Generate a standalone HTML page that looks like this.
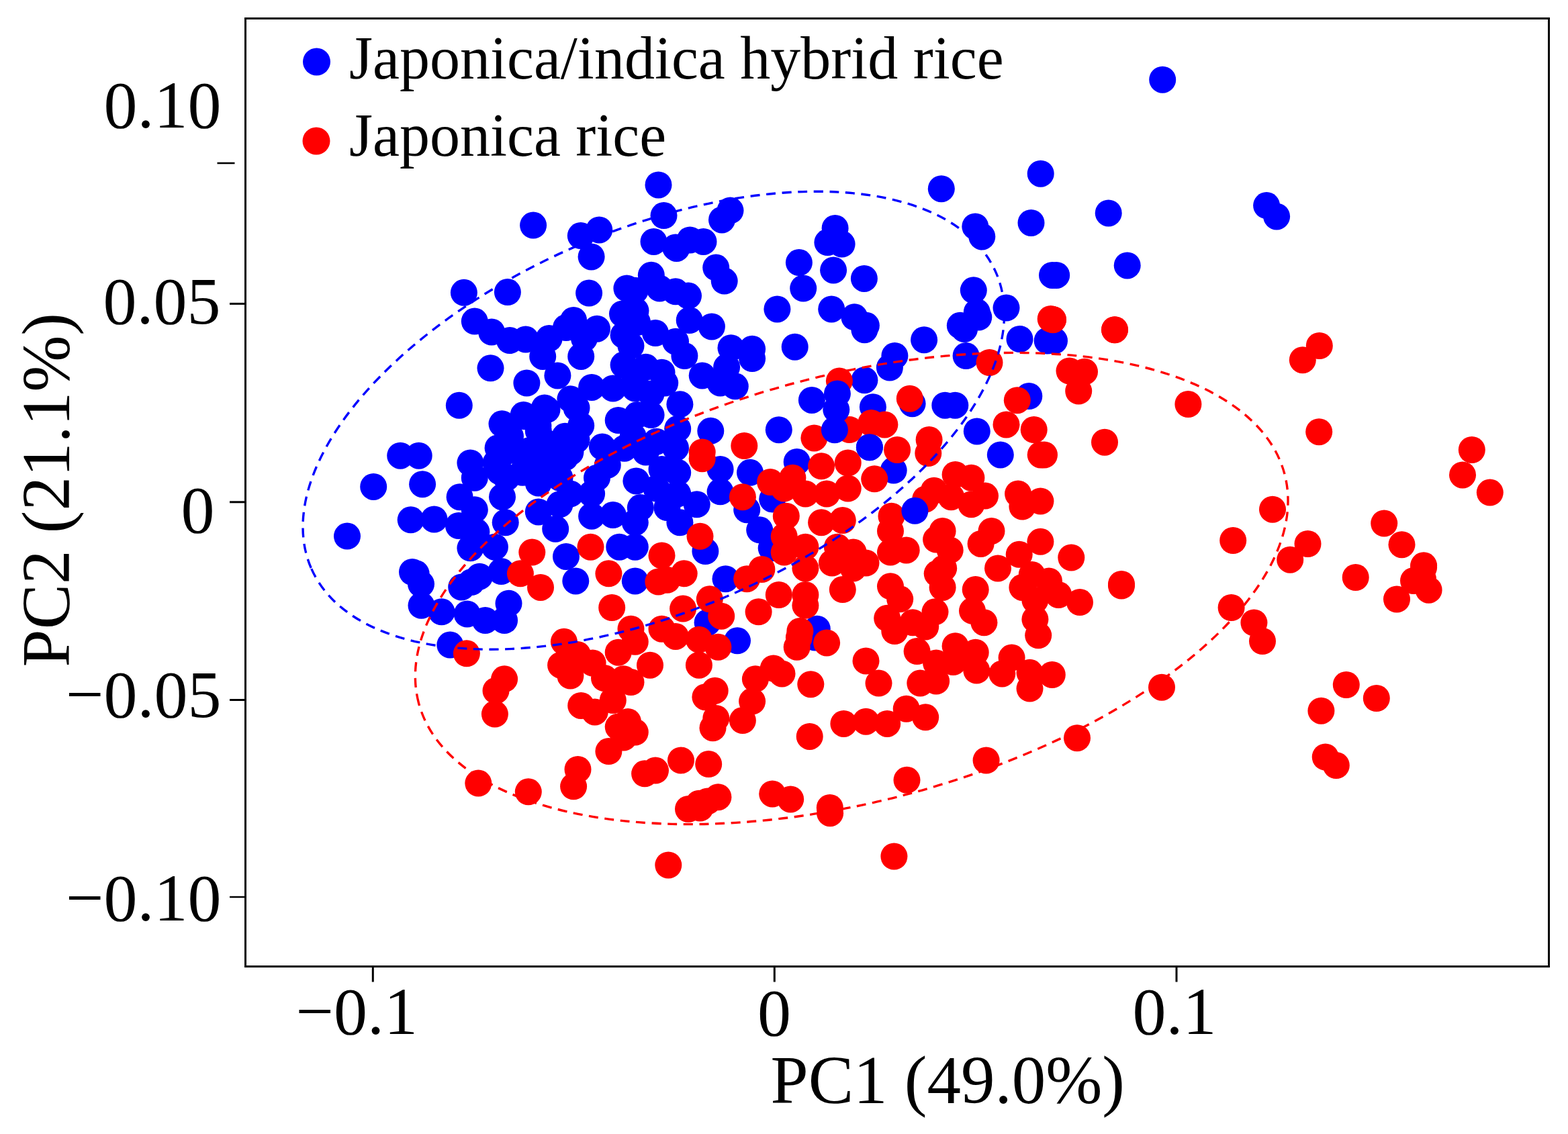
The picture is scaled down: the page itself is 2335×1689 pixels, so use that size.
<!DOCTYPE html>
<html><head><meta charset="utf-8"><title>PCA plot</title>
<style>html,body{margin:0;padding:0;background:#fff;overflow:hidden}svg{display:block}</style>
</head><body>
<svg width="2335" height="1689" viewBox="0 0 2335 1689">
<rect width="2335" height="1689" fill="#fff"/>
<g fill="#0000ff"><circle cx="980.5" cy="275.4" r="20"/><circle cx="794.1" cy="335.6" r="20"/><circle cx="988.5" cy="321.1" r="20"/><circle cx="864.8" cy="351.1" r="20"/><circle cx="892.3" cy="342.4" r="20"/><circle cx="880.6" cy="382.4" r="20"/><circle cx="973.5" cy="359.9" r="20"/><circle cx="1006.0" cy="368.6" r="20"/><circle cx="969.8" cy="409.8" r="20"/><circle cx="1401.8" cy="281.2" r="20"/><circle cx="1549.7" cy="258.7" r="20"/><circle cx="1535.5" cy="331.9" r="20"/><circle cx="1567.0" cy="409.9" r="20"/><circle cx="1087.5" cy="313.6" r="20"/><circle cx="1075.0" cy="327.4" r="20"/><circle cx="1027.5" cy="357.4" r="20"/><circle cx="1047.5" cy="359.9" r="20"/><circle cx="1007.5" cy="369.9" r="20"/><circle cx="1243.6" cy="339.9" r="20"/><circle cx="1232.4" cy="361.1" r="20"/><circle cx="1253.6" cy="363.6" r="20"/><circle cx="1189.9" cy="391.1" r="20"/><circle cx="1241.1" cy="402.4" r="20"/><circle cx="1286.9" cy="414.9" r="20"/><circle cx="1066.2" cy="398.6" r="20"/><circle cx="1078.7" cy="418.6" r="20"/><circle cx="1289.9" cy="484.8" r="20"/><circle cx="1452.3" cy="337.4" r="20"/><circle cx="1462.3" cy="352.4" r="20"/><circle cx="1449.8" cy="432.3" r="20"/><circle cx="1454.8" cy="464.8" r="20"/><circle cx="1498.5" cy="458.6" r="20"/><circle cx="1429.8" cy="484.8" r="20"/><circle cx="1731.2" cy="118.7" r="20"/><circle cx="1650.7" cy="317.4" r="20"/><circle cx="1886.1" cy="306.1" r="20"/><circle cx="1901.1" cy="322.4" r="20"/><circle cx="1573.2" cy="409.9" r="20"/><circle cx="1678.7" cy="395.4" r="20"/><circle cx="556.2" cy="724.9" r="20"/><circle cx="517.0" cy="798.6" r="20"/><circle cx="1287.4" cy="491.2" r="20"/><circle cx="1376.1" cy="506.2" r="20"/><circle cx="1436.1" cy="490.0" r="20"/><circle cx="1457.3" cy="472.5" r="20"/><circle cx="1518.5" cy="505.0" r="20"/><circle cx="1559.7" cy="507.5" r="20"/><circle cx="1438.6" cy="530.0" r="20"/><circle cx="1332.4" cy="530.0" r="20"/><circle cx="1324.9" cy="547.5" r="20"/><circle cx="1287.4" cy="566.2" r="20"/><circle cx="1299.9" cy="606.2" r="20"/><circle cx="1358.6" cy="601.2" r="20"/><circle cx="1407.3" cy="603.7" r="20"/><circle cx="1422.3" cy="603.7" r="20"/><circle cx="1532.3" cy="590.0" r="20"/><circle cx="1454.8" cy="642.4" r="20"/><circle cx="1489.8" cy="677.4" r="20"/><circle cx="1294.9" cy="666.2" r="20"/><circle cx="1570.0" cy="507.5" r="20"/><circle cx="690.9" cy="435.8" r="20"/><circle cx="755.9" cy="435.1" r="20"/><circle cx="877.1" cy="436.6" r="20"/><circle cx="927.0" cy="467.5" r="20"/><circle cx="928.6" cy="499.2" r="20"/><circle cx="706.8" cy="478.6" r="20"/><circle cx="732.1" cy="494.5" r="20"/><circle cx="759.0" cy="507.1" r="20"/><circle cx="782.8" cy="505.6" r="20"/><circle cx="817.7" cy="504.0" r="20"/><circle cx="854.1" cy="477.0" r="20"/><circle cx="889.0" cy="489.7" r="20"/><circle cx="808.2" cy="530.9" r="20"/><circle cx="830.4" cy="559.4" r="20"/><circle cx="865.2" cy="530.9" r="20"/><circle cx="730.5" cy="548.3" r="20"/><circle cx="784.4" cy="570.5" r="20"/><circle cx="683.8" cy="603.8" r="20"/><circle cx="881.1" cy="576.9" r="20"/><circle cx="928.6" cy="543.6" r="20"/><circle cx="779.6" cy="618.1" r="20"/><circle cx="814.5" cy="610.1" r="20"/><circle cx="849.4" cy="594.3" r="20"/><circle cx="912.8" cy="578.5" r="20"/><circle cx="741.6" cy="667.2" r="20"/><circle cx="801.8" cy="641.8" r="20"/><circle cx="841.4" cy="649.8" r="20"/><circle cx="865.2" cy="633.9" r="20"/><circle cx="920.7" cy="626.0" r="20"/><circle cx="896.9" cy="665.6" r="20"/><circle cx="849.4" cy="673.5" r="20"/><circle cx="786.0" cy="673.5" r="20"/><circle cx="760.0" cy="650.0" r="20"/><circle cx="820.0" cy="670.0" r="20"/><circle cx="1196.2" cy="429.5" r="20"/><circle cx="1157.4" cy="460.4" r="20"/><circle cx="1238.2" cy="460.4" r="20"/><circle cx="1272.4" cy="472.3" r="20"/><circle cx="1183.7" cy="516.7" r="20"/><circle cx="945.8" cy="432.7" r="20"/><circle cx="982.3" cy="429.5" r="20"/><circle cx="1006.0" cy="434.3" r="20"/><circle cx="1025.0" cy="440.6" r="20"/><circle cx="1026.7" cy="477.0" r="20"/><circle cx="946.5" cy="462.8" r="20"/><circle cx="976.0" cy="496.0" r="20"/><circle cx="949.0" cy="480.0" r="20"/><circle cx="1059.9" cy="486.5" r="20"/><circle cx="1088.5" cy="518.2" r="20"/><circle cx="1120.1" cy="519.8" r="20"/><circle cx="1120.1" cy="534.1" r="20"/><circle cx="1045.7" cy="559.4" r="20"/><circle cx="1072.6" cy="570.5" r="20"/><circle cx="1094.8" cy="575.3" r="20"/><circle cx="1082.1" cy="546.8" r="20"/><circle cx="1019.4" cy="530.0" r="20"/><circle cx="939.5" cy="515.1" r="20"/><circle cx="961.7" cy="546.8" r="20"/><circle cx="985.5" cy="554.7" r="20"/><circle cx="945.8" cy="578.5" r="20"/><circle cx="969.6" cy="586.4" r="20"/><circle cx="949.0" cy="618.1" r="20"/><circle cx="969.6" cy="618.1" r="20"/><circle cx="942.7" cy="649.8" r="20"/><circle cx="977.5" cy="657.7" r="20"/><circle cx="1012.4" cy="602.2" r="20"/><circle cx="1009.2" cy="638.7" r="20"/><circle cx="1006.0" cy="667.2" r="20"/><circle cx="961.7" cy="673.5" r="20"/><circle cx="1058.3" cy="641.8" r="20"/><circle cx="1159.8" cy="640.2" r="20"/><circle cx="629.1" cy="721.2" r="20"/><circle cx="611.7" cy="774.3" r="20"/><circle cx="646.5" cy="773.5" r="20"/><circle cx="684.6" cy="740.2" r="20"/><circle cx="706.8" cy="759.2" r="20"/><circle cx="683.0" cy="783.0" r="20"/><circle cx="700.4" cy="816.3" r="20"/><circle cx="736.9" cy="814.7" r="20"/><circle cx="700.4" cy="689.5" r="20"/><circle cx="706.8" cy="711.7" r="20"/><circle cx="752.7" cy="778.2" r="20"/><circle cx="748.0" cy="740.2" r="20"/><circle cx="754.3" cy="711.7" r="20"/><circle cx="738.5" cy="689.5" r="20"/><circle cx="778.1" cy="703.8" r="20"/><circle cx="801.8" cy="719.6" r="20"/><circle cx="817.7" cy="695.8" r="20"/><circle cx="841.4" cy="681.6" r="20"/><circle cx="833.5" cy="711.7" r="20"/><circle cx="801.8" cy="762.4" r="20"/><circle cx="833.5" cy="751.3" r="20"/><circle cx="827.2" cy="787.7" r="20"/><circle cx="849.4" cy="735.5" r="20"/><circle cx="889.0" cy="711.7" r="20"/><circle cx="881.1" cy="735.5" r="20"/><circle cx="881.1" cy="768.7" r="20"/><circle cx="912.8" cy="767.1" r="20"/><circle cx="922.3" cy="814.7" r="20"/><circle cx="843.0" cy="828.9" r="20"/><circle cx="857.3" cy="865.4" r="20"/><circle cx="904.8" cy="692.7" r="20"/><circle cx="619.6" cy="854.3" r="20"/><circle cx="627.5" cy="901.8" r="20"/><circle cx="657.6" cy="911.3" r="20"/><circle cx="702.0" cy="867.0" r="20"/><circle cx="746.4" cy="851.1" r="20"/><circle cx="695.7" cy="914.5" r="20"/><circle cx="722.6" cy="924.0" r="20"/><circle cx="757.5" cy="898.7" r="20"/><circle cx="751.1" cy="924.0" r="20"/><circle cx="947.4" cy="716.4" r="20"/><circle cx="985.5" cy="699.0" r="20"/><circle cx="1009.2" cy="703.8" r="20"/><circle cx="1009.2" cy="735.5" r="20"/><circle cx="1037.7" cy="751.3" r="20"/><circle cx="993.4" cy="756.1" r="20"/><circle cx="953.8" cy="756.1" r="20"/><circle cx="1012.4" cy="778.2" r="20"/><circle cx="945.8" cy="778.2" r="20"/><circle cx="945.8" cy="814.7" r="20"/><circle cx="1072.6" cy="699.0" r="20"/><circle cx="1117.0" cy="703.8" r="20"/><circle cx="1072.6" cy="732.3" r="20"/><circle cx="1186.7" cy="687.9" r="20"/><circle cx="1112.2" cy="759.2" r="20"/><circle cx="1150.2" cy="743.4" r="20"/><circle cx="1131.2" cy="789.3" r="20"/><circle cx="1148.7" cy="816.3" r="20"/><circle cx="1050.4" cy="821.0" r="20"/><circle cx="1080.5" cy="862.2" r="20"/><circle cx="945.8" cy="865.4" r="20"/><circle cx="1053.6" cy="927.2" r="20"/><circle cx="1216.8" cy="936.7" r="20"/><circle cx="1330.7" cy="700.6" r="20"/><circle cx="1098.0" cy="954.3" r="20"/><circle cx="1213.6" cy="949.5" r="20"/><circle cx="670.3" cy="960.6" r="20"/><circle cx="843.0" cy="488.0" r="20"/><circle cx="870.0" cy="504.0" r="20"/><circle cx="933.4" cy="429.5" r="20"/><circle cx="1006.0" cy="508.7" r="20"/><circle cx="945.8" cy="562.6" r="20"/><circle cx="990.2" cy="570.5" r="20"/><circle cx="596.2" cy="678.7" r="20"/><circle cx="623.7" cy="678.7" r="20"/><circle cx="977.5" cy="727.5" r="20"/><circle cx="709.4" cy="792.1" r="20"/><circle cx="627.0" cy="869.8" r="20"/><circle cx="614.0" cy="852.0" r="20"/><circle cx="687.2" cy="874.5" r="20"/><circle cx="714.1" cy="858.7" r="20"/><circle cx="782.4" cy="620.2" r="20"/><circle cx="801.4" cy="634.5" r="20"/><circle cx="858.5" cy="607.5" r="20"/><circle cx="810.9" cy="607.5" r="20"/><circle cx="760.2" cy="670.9" r="20"/><circle cx="788.7" cy="670.9" r="20"/><circle cx="810.9" cy="658.2" r="20"/><circle cx="744.4" cy="702.6" r="20"/><circle cx="779.2" cy="702.6" r="20"/><circle cx="807.7" cy="702.6" r="20"/><circle cx="858.5" cy="655.1" r="20"/><circle cx="747.5" cy="631.3" r="20"/><circle cx="929.8" cy="667.7" r="20"/></g>
<g fill="#ff0000"><circle cx="1568.0" cy="476.1" r="20"/><circle cx="1660.0" cy="491.2" r="20"/><circle cx="1564.7" cy="475.0" r="20"/><circle cx="1473.5" cy="540.0" r="20"/><circle cx="1354.8" cy="593.7" r="20"/><circle cx="1514.8" cy="596.2" r="20"/><circle cx="1297.4" cy="630.0" r="20"/><circle cx="1317.4" cy="632.4" r="20"/><circle cx="1336.1" cy="670.0" r="20"/><circle cx="1383.6" cy="655.0" r="20"/><circle cx="1382.3" cy="675.0" r="20"/><circle cx="1498.5" cy="632.4" r="20"/><circle cx="1539.7" cy="640.0" r="20"/><circle cx="1549.7" cy="677.4" r="20"/><circle cx="1568.0" cy="476.2" r="20"/><circle cx="1660.0" cy="491.2" r="20"/><circle cx="1964.8" cy="515.0" r="20"/><circle cx="1939.8" cy="536.2" r="20"/><circle cx="1592.5" cy="552.5" r="20"/><circle cx="1615.0" cy="553.7" r="20"/><circle cx="1606.2" cy="582.5" r="20"/><circle cx="1769.4" cy="602.0" r="20"/><circle cx="1555.0" cy="677.5" r="20"/><circle cx="1645.0" cy="658.7" r="20"/><circle cx="1964.2" cy="643.2" r="20"/><circle cx="1895.0" cy="758.7" r="20"/><circle cx="2061.2" cy="779.5" r="20"/><circle cx="2087.5" cy="811.2" r="20"/><circle cx="1836.2" cy="805.0" r="20"/><circle cx="1947.5" cy="810.0" r="20"/><circle cx="1921.2" cy="833.7" r="20"/><circle cx="2018.7" cy="860.0" r="20"/><circle cx="1670.0" cy="870.0" r="20"/><circle cx="2191.8" cy="670.0" r="20"/><circle cx="2178.0" cy="707.4" r="20"/><circle cx="2218.8" cy="733.6" r="20"/><circle cx="2120.1" cy="842.3" r="20"/><circle cx="1025.0" cy="1205.0" r="20"/><circle cx="1042.5" cy="1203.6" r="20"/><circle cx="1236.1" cy="1211.2" r="20"/><circle cx="1670.0" cy="872.5" r="20"/><circle cx="1833.6" cy="905.0" r="20"/><circle cx="1867.4" cy="927.5" r="20"/><circle cx="1880.0" cy="955.0" r="20"/><circle cx="1730.0" cy="1023.7" r="20"/><circle cx="2080.0" cy="892.5" r="20"/><circle cx="2105.0" cy="865.0" r="20"/><circle cx="2004.8" cy="1020.0" r="20"/><circle cx="2049.8" cy="1040.0" r="20"/><circle cx="1967.4" cy="1058.7" r="20"/><circle cx="1973.7" cy="1127.5" r="20"/><circle cx="1989.8" cy="1140.0" r="20"/><circle cx="2120.1" cy="845.0" r="20"/><circle cx="2119.0" cy="862.5" r="20"/><circle cx="2127.6" cy="878.7" r="20"/><circle cx="995.3" cy="1288.5" r="20"/><circle cx="1331.4" cy="1275.5" r="20"/><circle cx="1045.7" cy="673.5" r="20"/><circle cx="1108.3" cy="664.0" r="20"/><circle cx="1249.9" cy="567.4" r="20"/><circle cx="1212.4" cy="652.4" r="20"/><circle cx="1264.9" cy="640.0" r="20"/><circle cx="792.3" cy="822.6" r="20"/><circle cx="774.9" cy="854.3" r="20"/><circle cx="805.0" cy="874.9" r="20"/><circle cx="879.5" cy="814.7" r="20"/><circle cx="906.4" cy="854.3" r="20"/><circle cx="911.2" cy="905.0" r="20"/><circle cx="1045.7" cy="683.2" r="20"/><circle cx="1105.9" cy="740.2" r="20"/><circle cx="1147.1" cy="718.0" r="20"/><circle cx="1180.4" cy="711.7" r="20"/><circle cx="1223.1" cy="694.3" r="20"/><circle cx="1262.7" cy="689.5" r="20"/><circle cx="1199.4" cy="735.5" r="20"/><circle cx="1231.1" cy="735.5" r="20"/><circle cx="1262.7" cy="727.5" r="20"/><circle cx="1167.7" cy="727.5" r="20"/><circle cx="1170.8" cy="768.7" r="20"/><circle cx="1223.1" cy="778.2" r="20"/><circle cx="1254.8" cy="775.1" r="20"/><circle cx="1167.7" cy="798.8" r="20"/><circle cx="1167.7" cy="822.6" r="20"/><circle cx="1199.4" cy="814.7" r="20"/><circle cx="1246.9" cy="814.7" r="20"/><circle cx="1270.7" cy="822.6" r="20"/><circle cx="1134.4" cy="848.0" r="20"/><circle cx="1112.2" cy="862.2" r="20"/><circle cx="1159.8" cy="886.0" r="20"/><circle cx="1199.4" cy="886.0" r="20"/><circle cx="1254.8" cy="878.1" r="20"/><circle cx="1199.4" cy="846.4" r="20"/><circle cx="1239.0" cy="838.5" r="20"/><circle cx="1270.7" cy="846.4" r="20"/><circle cx="1199.4" cy="901.8" r="20"/><circle cx="1129.6" cy="911.3" r="20"/><circle cx="1042.5" cy="798.8" r="20"/><circle cx="985.5" cy="827.4" r="20"/><circle cx="1018.7" cy="854.3" r="20"/><circle cx="993.4" cy="863.8" r="20"/><circle cx="1056.8" cy="892.3" r="20"/><circle cx="1017.1" cy="906.6" r="20"/><circle cx="1074.2" cy="917.7" r="20"/><circle cx="985.5" cy="936.7" r="20"/><circle cx="939.5" cy="936.7" r="20"/><circle cx="1191.4" cy="940.0" r="20"/><circle cx="1302.2" cy="713.3" r="20"/><circle cx="1422.6" cy="707.0" r="20"/><circle cx="1446.4" cy="711.7" r="20"/><circle cx="1467.0" cy="738.6" r="20"/><circle cx="1446.4" cy="751.3" r="20"/><circle cx="1390.9" cy="730.7" r="20"/><circle cx="1378.2" cy="743.4" r="20"/><circle cx="1516.1" cy="735.5" r="20"/><circle cx="1549.4" cy="746.5" r="20"/><circle cx="1522.4" cy="754.5" r="20"/><circle cx="1476.5" cy="790.9" r="20"/><circle cx="1460.6" cy="809.9" r="20"/><circle cx="1549.4" cy="806.8" r="20"/><circle cx="1517.7" cy="825.8" r="20"/><circle cx="1595.3" cy="830.5" r="20"/><circle cx="1327.5" cy="768.7" r="20"/><circle cx="1326.0" cy="790.9" r="20"/><circle cx="1349.7" cy="819.4" r="20"/><circle cx="1403.6" cy="790.9" r="20"/><circle cx="1414.7" cy="819.4" r="20"/><circle cx="1289.5" cy="838.5" r="20"/><circle cx="1326.0" cy="822.6" r="20"/><circle cx="1405.2" cy="846.4" r="20"/><circle cx="1403.6" cy="874.9" r="20"/><circle cx="1486.0" cy="846.4" r="20"/><circle cx="1536.7" cy="855.9" r="20"/><circle cx="1522.4" cy="874.9" r="20"/><circle cx="1562.0" cy="865.4" r="20"/><circle cx="1576.3" cy="886.0" r="20"/><circle cx="1608.0" cy="897.1" r="20"/><circle cx="1541.4" cy="893.9" r="20"/><circle cx="1541.4" cy="922.4" r="20"/><circle cx="1452.7" cy="878.1" r="20"/><circle cx="1448.0" cy="909.8" r="20"/><circle cx="1465.4" cy="927.2" r="20"/><circle cx="1326.0" cy="873.3" r="20"/><circle cx="1340.2" cy="892.3" r="20"/><circle cx="1321.2" cy="920.8" r="20"/><circle cx="1359.2" cy="927.2" r="20"/><circle cx="1392.5" cy="911.3" r="20"/><circle cx="1378.2" cy="933.5" r="20"/><circle cx="945.8" cy="955.8" r="20"/><circle cx="968.0" cy="990.7" r="20"/><circle cx="939.5" cy="1016.0" r="20"/><circle cx="1006.0" cy="947.9" r="20"/><circle cx="1040.9" cy="952.7" r="20"/><circle cx="1069.4" cy="963.8" r="20"/><circle cx="1040.9" cy="990.7" r="20"/><circle cx="1064.7" cy="1028.7" r="20"/><circle cx="1050.4" cy="1038.2" r="20"/><circle cx="1066.3" cy="1069.9" r="20"/><circle cx="1061.5" cy="1084.2" r="20"/><circle cx="1105.9" cy="1073.1" r="20"/><circle cx="1120.1" cy="1044.6" r="20"/><circle cx="1124.9" cy="1011.3" r="20"/><circle cx="1151.8" cy="995.5" r="20"/><circle cx="1164.5" cy="1003.4" r="20"/><circle cx="1186.7" cy="963.8" r="20"/><circle cx="1189.9" cy="949.5" r="20"/><circle cx="1231.1" cy="957.4" r="20"/><circle cx="1207.3" cy="1019.2" r="20"/><circle cx="1205.7" cy="1096.9" r="20"/><circle cx="1256.4" cy="1077.9" r="20"/><circle cx="945.8" cy="1090.5" r="20"/><circle cx="935.0" cy="1075.0" r="20"/><circle cx="960.1" cy="1152.3" r="20"/><circle cx="976.0" cy="1147.6" r="20"/><circle cx="1014.0" cy="1132.5" r="20"/><circle cx="1055.2" cy="1138.1" r="20"/><circle cx="1053.6" cy="1193.5" r="20"/><circle cx="1069.4" cy="1187.2" r="20"/><circle cx="1040.9" cy="1196.7" r="20"/><circle cx="1150.2" cy="1182.4" r="20"/><circle cx="1177.2" cy="1190.4" r="20"/><circle cx="1235.8" cy="1203.0" r="20"/><circle cx="694.9" cy="973.3" r="20"/><circle cx="751.1" cy="1011.3" r="20"/><circle cx="738.5" cy="1028.7" r="20"/><circle cx="736.9" cy="1063.6" r="20"/><circle cx="839.9" cy="955.8" r="20"/><circle cx="835.1" cy="990.7" r="20"/><circle cx="849.4" cy="1006.5" r="20"/><circle cx="882.6" cy="987.5" r="20"/><circle cx="920.7" cy="971.7" r="20"/><circle cx="928.6" cy="1011.3" r="20"/><circle cx="865.2" cy="1050.9" r="20"/><circle cx="885.8" cy="1060.4" r="20"/><circle cx="912.8" cy="1043.0" r="20"/><circle cx="920.7" cy="1082.6" r="20"/><circle cx="906.4" cy="1119.1" r="20"/><circle cx="928.6" cy="1098.5" r="20"/><circle cx="860.5" cy="1146.0" r="20"/><circle cx="854.1" cy="1171.3" r="20"/><circle cx="712.3" cy="1166.6" r="20"/><circle cx="786.8" cy="1179.3" r="20"/><circle cx="860.0" cy="975.0" r="20"/><circle cx="900.0" cy="1010.0" r="20"/><circle cx="1332.3" cy="940.0" r="20"/><circle cx="1546.2" cy="946.3" r="20"/><circle cx="1289.5" cy="984.4" r="20"/><circle cx="1365.6" cy="970.1" r="20"/><circle cx="1394.1" cy="987.5" r="20"/><circle cx="1422.6" cy="962.2" r="20"/><circle cx="1419.4" cy="986.0" r="20"/><circle cx="1452.7" cy="971.7" r="20"/><circle cx="1454.3" cy="998.6" r="20"/><circle cx="1506.6" cy="979.6" r="20"/><circle cx="1492.3" cy="1003.4" r="20"/><circle cx="1533.5" cy="1001.8" r="20"/><circle cx="1566.8" cy="1005.0" r="20"/><circle cx="1533.5" cy="1025.6" r="20"/><circle cx="1308.5" cy="1017.6" r="20"/><circle cx="1370.3" cy="1017.6" r="20"/><circle cx="1394.1" cy="1014.5" r="20"/><circle cx="1289.5" cy="1074.7" r="20"/><circle cx="1321.2" cy="1077.9" r="20"/><circle cx="1349.7" cy="1055.7" r="20"/><circle cx="1378.2" cy="1068.3" r="20"/><circle cx="1350.5" cy="1161.8" r="20"/><circle cx="1468.6" cy="1132.5" r="20"/><circle cx="1604.0" cy="1099.2" r="20"/><circle cx="1416.3" cy="740.2" r="20"/><circle cx="1394.1" cy="803.6" r="20"/><circle cx="1395.7" cy="854.3" r="20"/><circle cx="980.4" cy="866.5" r="20"/></g>
<g fill="#0000ff"><circle cx="1208.9" cy="595.9" r="20"/><circle cx="1246.9" cy="586.4" r="20"/><circle cx="1245.3" cy="610.1" r="20"/><circle cx="1242.9" cy="640.2" r="20"/><circle cx="1362.4" cy="760.8" r="20"/><circle cx="1294.9" cy="666.2" r="20"/></g>
<g fill="none" stroke-width="3.4" stroke-dasharray="14 9.6">
<ellipse cx="973.3" cy="626.2" rx="555.4" ry="283.9" transform="rotate(156.69 973.3 626.2)" stroke="#0000ff"/>
<ellipse cx="1268.2" cy="876.5" rx="666.9" ry="317.5" transform="rotate(165.19 1268.2 876.5)" stroke="#ff0000"/>
</g>
<rect x="365.5" y="27.5" width="1941" height="1412" fill="none" stroke="#000" stroke-width="3"/>
<g stroke="#000" stroke-width="3">
<line x1="342" y1="452.4" x2="365" y2="452.4"/>
<line x1="342" y1="747.8" x2="365" y2="747.8"/>
<line x1="342" y1="1042.5" x2="365" y2="1042.5"/>
<line x1="342" y1="1336" x2="365" y2="1336" stroke-width="2.5"/>
<line x1="555.3" y1="1440" x2="555.3" y2="1462.5"/>
<line x1="1153.3" y1="1440" x2="1153.3" y2="1462.5"/>
<line x1="1752" y1="1440" x2="1752" y2="1462.5"/>
</g>
<line x1="323.5" y1="243" x2="349.5" y2="243" stroke="#000" stroke-width="2.6"/>
<g font-family="'Liberation Serif', 'Times New Roman', serif" font-size="100" fill="#000">
<text x="329.5" y="190" text-anchor="end">0.10</text>
<text x="328.5" y="482" text-anchor="end">0.05</text>
<text x="319.5" y="792.5" text-anchor="end">0</text>
<text x="329.5" y="1067.5" text-anchor="end">&#8722;0.05</text>
<text x="329.5" y="1370.5" text-anchor="end">&#8722;0.10</text>
<text x="440.5" y="1540">&#8722;0.1</text>
<text x="1153" y="1542" text-anchor="middle">0</text>
<text x="1749" y="1540" text-anchor="middle">0.1</text>
<text x="1147.5" y="1642.5" font-size="101">PC1 (49.0%)</text>
<text transform="translate(102.5 993.5) rotate(-90)" font-size="101">PC2 (21.1%)</text>
</g>
<g font-family="'Liberation Serif', 'Times New Roman', serif" font-size="90" fill="#000">
<text x="520" y="116.5">Japonica/indica hybrid rice</text>
<text x="520" y="232">Japonica rice</text>
</g>
<circle cx="471.5" cy="92" r="20.5" fill="#0000ff"/>
<circle cx="471" cy="210" r="20.5" fill="#ff0000"/>
</svg>
</body></html>
